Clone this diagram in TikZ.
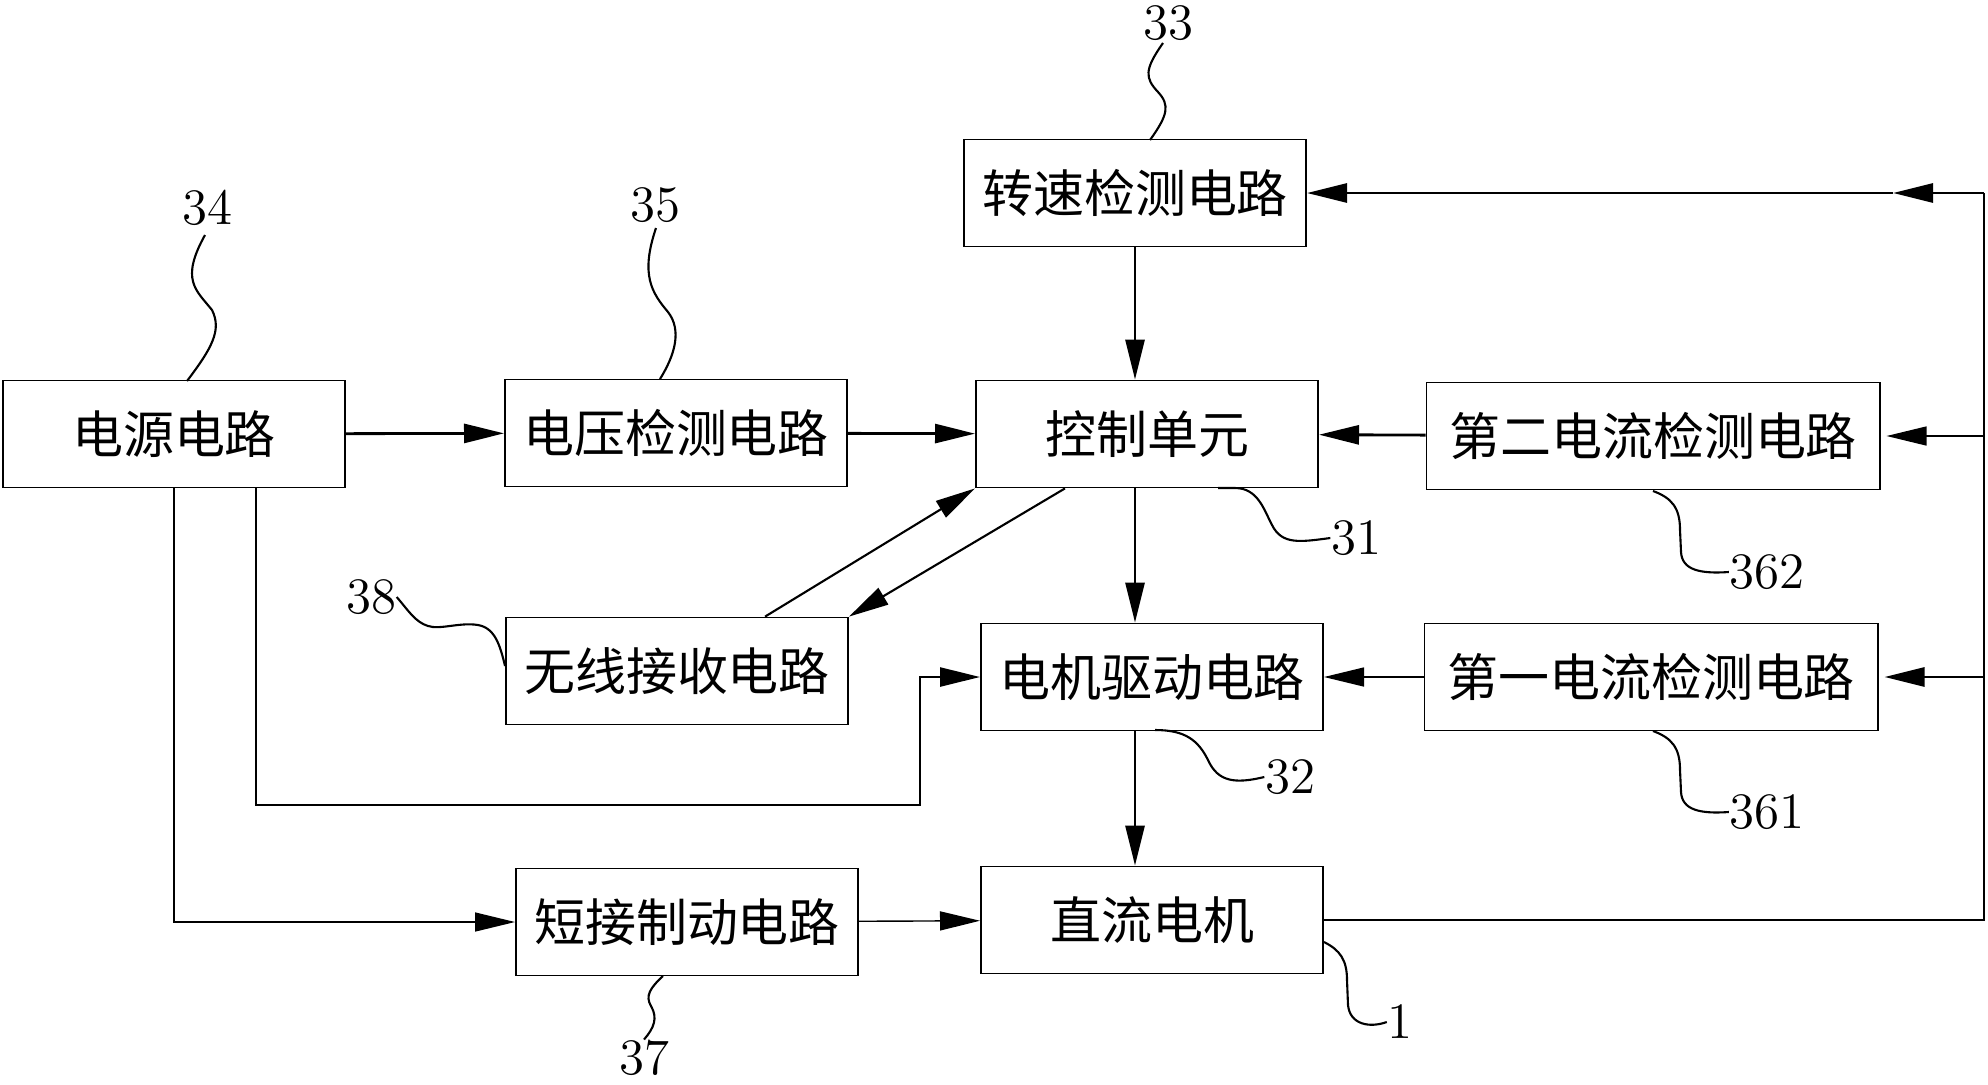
\documentclass[tikz,border=0pt]{standalone}
\usepackage{fontspec}
\usepackage{tikz}
\usetikzlibrary{arrows.meta, positioning}
\newfontfamily\cjk{Noto Sans CJK SC}
\tikzstyle{block} = [rectangle, minimum width=3.42cm, minimum height=1.07cm, inner sep=0pt, text centered, draw=black, line width=0.5pt, font=\cjk\fontsize{14.5}{16}\selectfont]
\tikzstyle{wideblock} = [block, minimum width=4.53cm]
\tikzstyle{num} = [inner sep=0pt, font=\fontsize{14.5}{16}\selectfont]
\tikzstyle{arrow} = [line width=0.8pt, -{Triangle[length=0.4cm, width=0.19cm]}]
\tikzstyle{thinarrow} = [line width=0.4pt, -{Triangle[length=0.4cm, width=0.19cm]}]
\tikzstyle{leader} = [line width=0.6pt]

\begin{document}
\begin{tikzpicture}[x=0.01cm, y=-0.01cm]
	\useasboundingbox (0,0) rectangle (1988,1084);
	
	% Blocks
	\node (speeddet) [block] at (1135,193) {转速检测电路};
	\node (power) [block] at (174,434) {电源电路};
	\node (voltdet) [block] at (676,433) {电压检测电路};
	\node (ctrl) [block] at (1147,434) {控制单元};
	\node (cur2det) [wideblock] at (1653,436) {第二电流检测电路};
	\node (wireless) [block] at (677,671) {无线接收电路};
	\node (drive) [block] at (1152,677) {电机驱动电路};
	\node (cur1det) [wideblock] at (1651,677) {第一电流检测电路};
	\node (brake) [block] at (687,922) {短接制动电路};
	\node (motor) [block] at (1152,920) {直流电机};
	
	% Reference numbers
	\node (n33) [num] at (1168,23) {33};
	\node (n34) [num] at (207,208) {34};
	\node (n35) [num] at (655,205) {35};
	\node (n31) [num] at (1356,538) {31};
	\node (n362) [num] at (1767,572) {362};
	\node (n38) [num] at (371,597) {38};
	\node (n32) [num] at (1290,777) {32};
	\node (n361) [num] at (1767,812) {361};
	\node (n37) [num] at (644,1058) {37};
	\node (n1) [num] at (1400,1022) {1};
	
	% Corner points
	\coordinate (railtop) at (1984,193);
	\coordinate (midarr) at (1893,193);
	\coordinate (bend) at (920,805);
	
	% Arrows into the control unit
	\draw [arrow] (power) -- (voltdet);
	\draw [arrow] (voltdet) -- (ctrl);
	\draw [arrow] (speeddet.south) -- (speeddet.south |- ctrl.north);
	\draw [arrow] (cur2det) -- (ctrl);
	\draw [arrow, line width=0.6pt] ([xshift=0.88cm]wireless.north) -- (ctrl.south west);
	\draw [arrow, line width=0.6pt] ([xshift=-0.82cm]ctrl.south) -- (wireless.north east);
	
	% Drive and motor
	\draw [arrow] (speeddet.south |- ctrl.south) -- (speeddet.south |- drive.north);
	\draw [arrow] (speeddet.south |- drive.south) -- (speeddet.south |- motor.north);
	\draw [thinarrow] (cur1det) -- (drive);
	\draw [arrow, line width=0.7pt] ([xshift=0.82cm]power.south) |- (bend) |- (drive.west);
	\draw [thinarrow] (power.south) |- (brake.west);
	\draw [thinarrow] (brake) -- (motor);
	
	% Feedback from the motor
	\draw [line width=0.4pt] (motor.east) -- (motor.east -| railtop) -- (railtop);
	\draw [arrow] (railtop) -- (midarr);
	\draw [arrow] (midarr) -- (speeddet.east);
	\draw [thinarrow] (railtop |- cur2det.east) -- ([xshift=0.06cm]cur2det.east);
	\draw [arrow] (railtop |- cur1det.east) -- ([xshift=0.06cm]cur1det.east);
	
	% Leaders
	\draw [leader] (1150,140) .. controls (1168,115) and (1170,105) .. (1158,92) .. controls (1145,78) and (1144,70) .. (1163,43);
	\draw [leader] (187,381) .. controls (212,348) and (222,330) .. (212,310) .. controls (196,290) and (180,280) .. (205,235);
	\draw [leader] (660,379) .. controls (675,355) and (682,330) .. (668,312) .. controls (652,293) and (640,275) .. (656,228);
	\draw [leader] (1218,488) -- (1235,488) .. controls (1258,488) and (1264,510) .. (1272,525) .. controls (1282,545) and (1300,542) .. (n31.west);
	\draw [leader] (1653,491) .. controls (1672,498) and (1680,508) .. (1680,530) -- (1681,552) .. controls (1682,570) and (1700,574) .. (n362.west);
	\draw [leader] (1653,731) .. controls (1672,738) and (1680,748) .. (1680,770) -- (1681,792) .. controls (1682,810) and (1700,814) .. (n361.west);
	\draw [leader] (1155,730) .. controls (1185,730) and (1198,740) .. (1208,760) .. controls (1218,782) and (1235,784) .. (n32.west);
	\draw [leader] (motor.east |- 0,942) .. controls (1340,950) and (1347,960) .. (1347,980) -- (1348,1005) .. controls (1350,1025) and (1370,1028) .. (n1.west);
	\draw [leader] (663,976) .. controls (650,988) and (645,996) .. (651,1006) .. controls (658,1018) and (654,1028) .. (n37.north);
	\draw [leader] (wireless.west |- 0,666) .. controls (500,645) and (495,628) .. (478,625) .. controls (460,622) and (440,630) .. (428,626) .. controls (415,622) and (408,610) .. (n38.east);
	
\end{tikzpicture}
\end{document}
